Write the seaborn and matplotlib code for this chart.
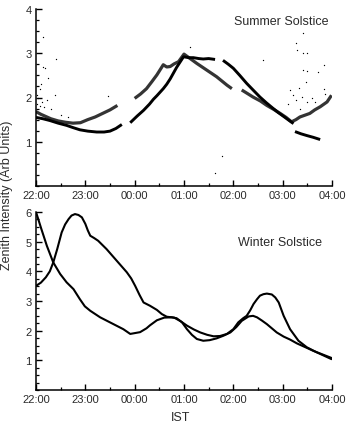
import matplotlib
matplotlib.use("Agg")
import matplotlib.pyplot as plt
from matplotlib.ticker import MultipleLocator
import seaborn as sns
import pandas as pd

# ---------------- data (hours after 22:00 IST) ----------------
tick_labels = ["22:00", "23:00", "00:00", "01:00", "02:00", "03:00", "04:00"]

# Summer solstice - noisier band (three segments)
sn1_t = [0.0, 0.1, 0.2, 0.3, 0.45, 0.6, 0.75, 0.9, 1.05, 1.2, 1.35, 1.5, 1.65]
sn1_v = [1.68, 1.62, 1.57, 1.52, 1.47, 1.44, 1.42, 1.43, 1.50, 1.56, 1.64, 1.72, 1.82]
sn2_t = [2.0, 2.12, 2.24, 2.35, 2.45, 2.58, 2.65, 2.72, 2.8, 2.89, 3.0, 3.1, 3.26, 3.46, 3.66, 3.87, 3.97]
sn2_v = [1.98, 2.08, 2.2, 2.36, 2.51, 2.74, 2.69, 2.7, 2.76, 2.81, 2.98, 2.9, 2.77, 2.62, 2.47, 2.28, 2.2]
sn3_t = [4.17, 4.3, 4.4, 4.55, 4.68, 4.82, 4.95, 5.07, 5.18, 5.27, 5.35, 5.45, 5.55, 5.65, 5.76, 5.9, 5.99]
sn3_v = [2.17, 2.08, 2.01, 1.92, 1.82, 1.73, 1.64, 1.55, 1.45, 1.5, 1.56, 1.6, 1.64, 1.72, 1.79, 1.9, 2.05]

# Summer solstice - bold band (four segments)
sb1_t = [0.0, 0.14, 0.28, 0.45, 0.62, 0.75, 0.89, 1.05, 1.23, 1.38, 1.5, 1.62, 1.74]
sb1_v = [1.55, 1.52, 1.48, 1.42, 1.37, 1.32, 1.27, 1.24, 1.22, 1.22, 1.24, 1.3, 1.39]
sb2_t = [1.91, 2.05, 2.18, 2.3, 2.38, 2.45, 2.58, 2.65, 2.72, 2.85, 2.99, 3.1, 3.19, 3.3, 3.39, 3.5, 3.63]
sb2_v = [1.43, 1.58, 1.71, 1.85, 1.96, 2.04, 2.2, 2.3, 2.42, 2.68, 2.92, 2.9, 2.9, 2.88, 2.87, 2.88, 2.86]
sb3_t = [3.79, 3.9, 4.0, 4.13, 4.27, 4.4, 4.54, 4.67, 4.81, 4.91, 5.01, 5.12, 5.22]
sb3_v = [2.84, 2.75, 2.66, 2.5, 2.32, 2.17, 2.01, 1.88, 1.75, 1.66, 1.58, 1.49, 1.41]
sb4_t = [5.25, 5.37, 5.49, 5.62, 5.76]
sb4_v = [1.23, 1.18, 1.14, 1.1, 1.05]

# Summer solstice - scattered outliers
out_t = [0.15, 0.14, 0.18, 0.25, 0.41, 0.08, 0.39, 1.45, 0.05, 0.12, 0.22, 0.03, 0.08,
         0.16, 0.3, 0.5, 0.65, 0.02, 0.1,
         5.41, 5.28, 5.3, 5.42, 5.49, 4.6, 5.42, 5.5, 5.72, 5.83, 5.47, 5.15, 5.33,
         5.83, 5.86, 5.2, 5.39, 5.59, 5.28, 5.49, 5.35, 5.1, 5.65,
         3.63, 3.78, 3.12]
out_v = [3.36, 2.7, 2.66, 2.43, 2.87, 2.2, 2.05, 2.04, 1.98, 1.9, 1.94, 1.85, 1.8,
         1.78, 1.75, 1.6, 1.55, 2.05, 2.3,
         3.45, 3.23, 3.07, 3.0, 3.0, 2.85, 2.62, 2.6, 2.58, 2.73, 2.36, 2.18, 2.22,
         2.2, 2.09, 2.05, 2.01, 1.98, 1.94, 1.9, 1.75, 1.85, 1.9,
         0.3, 0.68, 3.15]

# Winter solstice - two nights
w1_t = [0, 0.11, 0.22, 0.35, 0.49, 0.62, 0.76, 0.89, 0.99, 1.1, 1.3, 1.57, 1.77, 1.91,
        2.01, 2.11, 2.24, 2.31, 2.45, 2.6, 2.75, 2.85, 2.96, 3.06, 3.16, 3.26, 3.39,
        3.52, 3.66, 3.8, 3.94, 4.06, 4.17, 4.31, 4.4, 4.48, 4.58, 4.68, 4.88, 5.02,
        5.15, 5.29, 5.49, 5.62, 5.76, 5.99]
w1_v = [6.0, 5.42, 4.86, 4.3, 3.91, 3.63, 3.4, 3.06, 2.82, 2.67, 2.45, 2.22, 2.05, 1.89,
        1.92, 1.95, 2.08, 2.18, 2.35, 2.44, 2.45, 2.42, 2.28, 2.05, 1.86, 1.72, 1.66,
        1.68, 1.74, 1.83, 1.94, 2.12, 2.33, 2.48, 2.5, 2.45, 2.34, 2.22, 1.94, 1.8,
        1.7, 1.57, 1.42, 1.32, 1.23, 1.08]
w2_t = [0, 0.1, 0.2, 0.28, 0.35, 0.43, 0.52, 0.59, 0.66, 0.72, 0.79, 0.86, 0.93, 1.0,
        1.05, 1.1, 1.18, 1.26, 1.43, 1.64, 1.84, 1.93, 2.01, 2.1, 2.18, 2.31, 2.45,
        2.55, 2.65, 2.8, 2.93, 3.06, 3.2, 3.33, 3.47, 3.6, 3.73, 3.87, 4.0, 4.1, 4.2,
        4.27, 4.34, 4.41, 4.48, 4.54, 4.61, 4.68, 4.78, 4.85, 4.92, 5.02, 5.15, 5.32,
        5.49, 5.69, 5.99]
w2_v = [3.51, 3.62, 3.8, 4.0, 4.3, 4.75, 5.31, 5.58, 5.76, 5.88, 5.93, 5.9, 5.82, 5.6,
        5.38, 5.2, 5.12, 5.03, 4.75, 4.35, 3.97, 3.76, 3.51, 3.2, 2.95, 2.84, 2.7,
        2.56, 2.47, 2.44, 2.32, 2.17, 2.04, 1.94, 1.86, 1.81, 1.82, 1.89, 2.05, 2.28,
        2.42, 2.5, 2.68, 2.9, 3.06, 3.18, 3.23, 3.25, 3.22, 3.12, 2.95, 2.5, 2.05,
        1.66, 1.44, 1.27, 1.04]

# ---------------- style ----------------
sns.set_theme(style="ticks")
plt.rcParams["font.family"] = ["Liberation Sans", "DejaVu Sans"]
TXT = "#2a2a2a"

fig = plt.figure(figsize=(3.47, 4.27), dpi=100)
ax1 = fig.add_axes([36 / 347, 1 - 187 / 427, 296 / 347, 177 / 427])
ax2 = fig.add_axes([36 / 347, 1 - 391 / 427, 296 / 347, 178 / 427])


def seg_df(t, v):
    return pd.DataFrame({"t": t, "v": v})


for t, v in [(sn1_t, sn1_v), (sn2_t, sn2_v), (sn3_t, sn3_v)]:
    sns.lineplot(data=seg_df(t, v), x="t", y="v", ax=ax1, color="#1e1e1e",
                 lw=2.3, estimator=None, sort=False, alpha=0.9,
                 solid_capstyle="butt")
for t, v in [(sb1_t, sb1_v), (sb2_t, sb2_v), (sb3_t, sb3_v), (sb4_t, sb4_v)]:
    sns.lineplot(data=seg_df(t, v), x="t", y="v", ax=ax1, color="black",
                 lw=2.1, estimator=None, sort=False, solid_capstyle="butt")
sns.scatterplot(data=seg_df(out_t, out_v), x="t", y="v", ax=ax1, color="black",
                s=0.9, marker="o", linewidth=0)

for t, v in [(w1_t, w1_v), (w2_t, w2_v)]:
    sns.lineplot(data=seg_df(t, v), x="t", y="v", ax=ax2, color="black",
                 lw=1.5, estimator=None, sort=False)

for ax, ymax in [(ax1, 4), (ax2, 6)]:
    ax.set_xlim(0, 6)
    ax.set_ylim(0, ymax)
    ax.set_xlabel("")
    ax.set_ylabel("")
    ax.xaxis.set_major_locator(MultipleLocator(1))
    ax.xaxis.set_minor_locator(MultipleLocator(0.5))
    ax.yaxis.set_major_locator(MultipleLocator(1))
    ax.yaxis.set_minor_locator(MultipleLocator(0.25))
    ax.set_xticks(range(7))
    ax.set_xticklabels(tick_labels)
    ax.set_yticks(range(1, ymax + 1))
    ax.set_yticklabels([str(i) for i in range(1, ymax + 1)])
    ax.tick_params(which="major", direction="in", length=4.5, width=1.0,
                   color="black", labelsize=8, labelcolor=TXT, pad=3)
    ax.tick_params(which="minor", direction="in", length=2.5, width=0.9,
                   color="black")
    for s in ["top", "right"]:
        ax.spines[s].set_visible(False)
    for s in ["left", "bottom"]:
        ax.spines[s].set_linewidth(1.1)
        ax.spines[s].set_color("black")
    ax.set_facecolor("white")

ax1.text(0.83, 0.934, "Summer Solstice", transform=ax1.transAxes, ha="center",
         va="center", fontsize=9, color=TXT)
ax2.text(0.823, 0.83, "Winter Solstice", transform=ax2.transAxes, ha="center",
         va="center", fontsize=9, color=TXT)
fig.text(7 / 347, 1 - 195 / 427, "Zenith Intensity (Arb Units)", rotation=90,
         ha="center", va="center", fontsize=9, color=TXT)
fig.text(181 / 347, 1 - 418 / 427, "IST", ha="center", va="center",
         fontsize=9, color=TXT)

fig.savefig("out.png", dpi=100, facecolor="white")
